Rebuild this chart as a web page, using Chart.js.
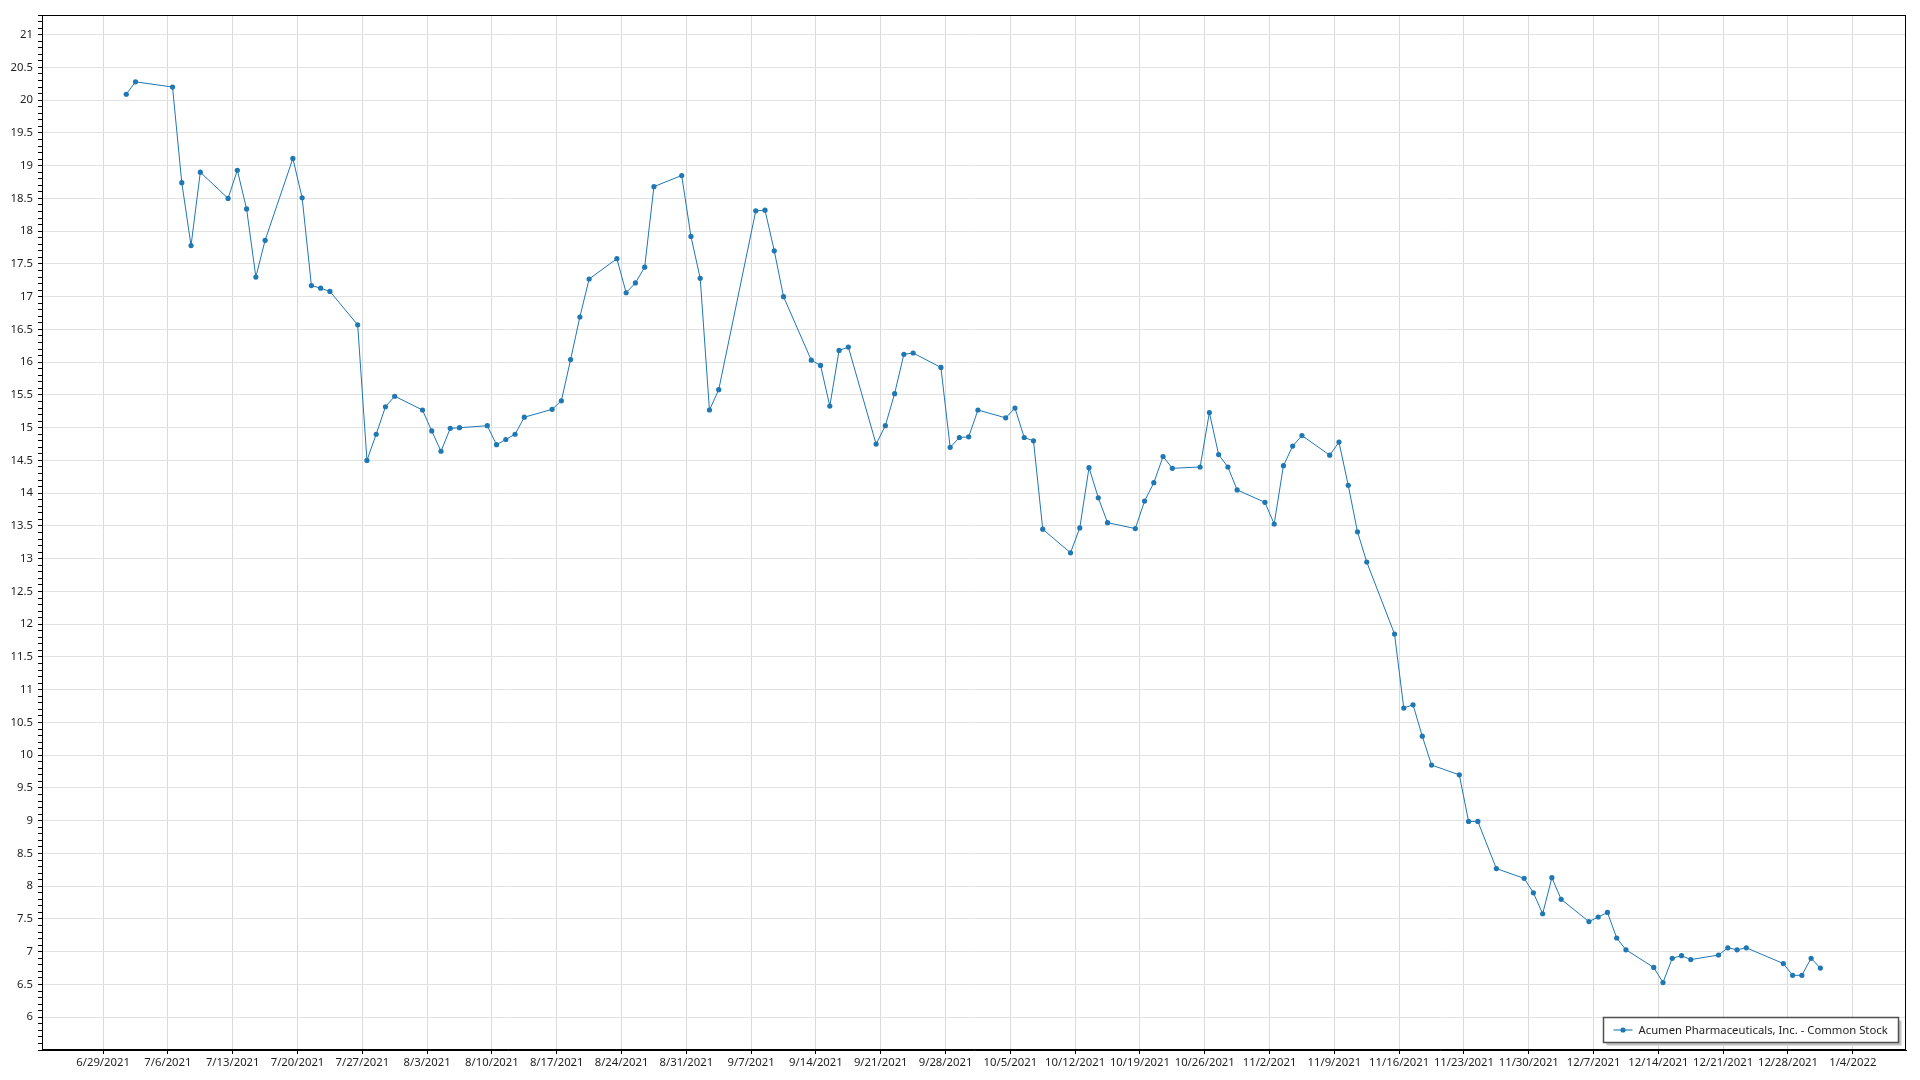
<!DOCTYPE html>
<html>
<head>
<meta charset="utf-8">
<title>Acumen Pharmaceuticals, Inc. - Common Stock</title>
<script src="https://cdn.jsdelivr.net/npm/chart.js@4.4.1/dist/chart.umd.min.js"></script>
<style>
  html, body { margin: 0; padding: 0; background: #fff; }
  canvas { display: block; }
</style>
</head>
<body>
<canvas id="price" width="1920" height="1080"></canvas>
<script>
let seriesName = 'Acumen Pharmaceuticals, Inc. - Common Stock';

let dates = [
    '2021-07-01', '2021-07-02', '2021-07-06', '2021-07-07', '2021-07-08', '2021-07-09',
    '2021-07-12', '2021-07-13', '2021-07-14', '2021-07-15', '2021-07-16',
    '2021-07-19', '2021-07-20', '2021-07-21', '2021-07-22', '2021-07-23',
    '2021-07-26', '2021-07-27', '2021-07-28', '2021-07-29', '2021-07-30',
    '2021-08-02', '2021-08-03', '2021-08-04', '2021-08-05', '2021-08-06',
    '2021-08-09', '2021-08-10', '2021-08-11', '2021-08-12', '2021-08-13',
    '2021-08-16', '2021-08-17', '2021-08-18', '2021-08-19', '2021-08-20',
    '2021-08-23', '2021-08-24', '2021-08-25', '2021-08-26', '2021-08-27',
    '2021-08-30', '2021-08-31', '2021-09-01', '2021-09-02', '2021-09-03',
    '2021-09-07', '2021-09-08', '2021-09-09', '2021-09-10',
    '2021-09-13', '2021-09-14', '2021-09-15', '2021-09-16', '2021-09-17',
    '2021-09-20', '2021-09-21', '2021-09-22', '2021-09-23', '2021-09-24',
    '2021-09-27', '2021-09-28', '2021-09-29', '2021-09-30', '2021-10-01',
    '2021-10-04', '2021-10-05', '2021-10-06', '2021-10-07', '2021-10-08',
    '2021-10-11', '2021-10-12', '2021-10-13', '2021-10-14', '2021-10-15',
    '2021-10-18', '2021-10-19', '2021-10-20', '2021-10-21', '2021-10-22',
    '2021-10-25', '2021-10-26', '2021-10-27', '2021-10-28', '2021-10-29',
    '2021-11-01', '2021-11-02', '2021-11-03', '2021-11-04', '2021-11-05',
    '2021-11-08', '2021-11-09', '2021-11-10', '2021-11-11', '2021-11-12',
    '2021-11-15', '2021-11-16', '2021-11-17', '2021-11-18', '2021-11-19',
    '2021-11-22', '2021-11-23', '2021-11-24', '2021-11-26',
    '2021-11-29', '2021-11-30', '2021-12-01', '2021-12-02', '2021-12-03',
    '2021-12-06', '2021-12-07', '2021-12-08', '2021-12-09', '2021-12-10',
    '2021-12-13', '2021-12-14', '2021-12-15', '2021-12-16', '2021-12-17',
    '2021-12-20', '2021-12-21', '2021-12-22', '2021-12-23',
    '2021-12-27', '2021-12-28', '2021-12-29', '2021-12-30', '2021-12-31'
];

let prices = [
    20.09, 20.28, 20.20, 18.74, 17.78, 18.90,
    18.50, 18.93, 18.34, 17.30, 17.86,
    19.11, 18.51, 17.17, 17.13, 17.08,
    16.57, 14.50, 14.90, 15.32, 15.48,
    15.27, 14.95, 14.64, 14.99, 15.00,
    15.03, 14.74, 14.82, 14.90, 15.16,
    15.28, 15.41, 16.04, 16.69, 17.27,
    17.58, 17.06, 17.21, 17.45, 18.68,
    18.85, 17.92, 17.28, 15.27, 15.58,
    18.31, 18.32, 17.70, 17.00,
    16.03, 15.95, 15.33, 16.18, 16.23,
    14.75, 15.03, 15.52, 16.12, 16.14,
    15.92, 14.70, 14.85, 14.86, 15.27,
    15.15, 15.30, 14.85, 14.80, 13.45,
    13.09, 13.47, 14.39, 13.93, 13.55,
    13.46, 13.88, 14.16, 14.56, 14.38,
    14.40, 15.23, 14.59, 14.40, 14.05,
    13.86, 13.53, 14.42, 14.72, 14.88,
    14.58, 14.78, 14.12, 13.41, 12.95,
    11.85, 10.72, 10.77, 10.29, 9.85,
    9.70, 8.99, 8.99, 8.27,
    8.12, 7.90, 7.58, 8.13, 7.80,
    7.46, 7.53, 7.60, 7.21, 7.03,
    6.76, 6.53, 6.90, 6.94, 6.88,
    6.95, 7.06, 7.03, 7.06,
    6.82, 6.64, 6.64, 6.90, 6.75
];

// weekly date ticks, counted in days from this date
let tickOrigin = '2021-06-29';
let xRange = [-6.6, 194.75];
let xStep = 7;
let yRange = [5.5, 21.3];
let yStep = 0.1;
let yLabelStep = 0.5;

let lineCol = 'rgb(31, 119, 180)';
let fontFamily = '"Segoe UI", "Noto Sans", sans-serif';
let fontSize = 11.3;

function utc(s) {
    let p = s.split('-').map(Number);
    return Date.UTC(p[0], p[1] - 1, p[2]);
}
let originMs = utc(tickOrigin);
let dayMs = 86400000;

function dayOf(s) {
    return Math.round((utc(s) - originMs) / dayMs);
}

function dateLabel(v) {
    let t = new Date(originMs + Math.round(v) * dayMs);
    return (t.getUTCMonth() + 1) + '/' + t.getUTCDate() + '/' + t.getUTCFullYear();
}

function isMajor(v) {
    let k = v / yLabelStep;
    return Math.abs(k - Math.round(k)) < 1e-6;
}

// points sit at midday of their trading day
let points = dates.map((d, i) => ({x: dayOf(d) + 0.5, y: prices[i]}));

let xTicks = [];
for (let v = Math.ceil(xRange[0] / xStep) * xStep; v <= xRange[1]; v += xStep) xTicks.push(v);
let yTicks = [];
let yCount = Math.round((yRange[1] - yRange[0]) / yStep);
for (let i = 0; i <= yCount; i++) yTicks.push(Math.round((yRange[0] + i * yStep) * 10) / 10);

const frame = {
    id: 'frame',
    afterDraw(chart) {
        let ctx = chart.ctx, a = chart.chartArea;
        ctx.save();
        ctx.strokeStyle = '#000';
        ctx.lineWidth = 1;
        ctx.strokeRect(Math.round(a.left) + 0.5, Math.round(a.top) + 0.5,
            Math.round(a.right - a.left) - 1, Math.round(a.bottom - a.top) - 1);
        ctx.restore();
    }
};

const boxLegend = {
    id: 'boxLegend',
    afterDraw(chart) {
        let ctx = chart.ctx, a = chart.chartArea;
        let ds = chart.data.datasets[0];
        ctx.save();
        ctx.font = fontSize + 'px ' + fontFamily;
        let tw = ctx.measureText(ds.label).width;
        let w = Math.round(tw + 46), h = 25;
        let x = Math.round(a.right - 8 - w) + 0.5, y = Math.round(a.bottom - 8 - h) + 0.5;
        ctx.fillStyle = '#c4c4c4';
        ctx.fillRect(x + 3, y + 3, w, h);
        ctx.fillStyle = '#fff';
        ctx.fillRect(x, y, w, h);
        ctx.strokeStyle = '#505050';
        ctx.lineWidth = 1.5;
        ctx.strokeRect(x, y, w, h);
        let cy = y + h / 2;
        ctx.strokeStyle = 'rgba(31, 119, 180, 0.55)';
        ctx.lineWidth = 2;
        ctx.beginPath();
        ctx.moveTo(x + 10, cy);
        ctx.lineTo(x + 29, cy);
        ctx.stroke();
        ctx.fillStyle = ds.borderColor;
        ctx.beginPath();
        ctx.arc(x + 19.5, cy, 2.6, 0, Math.PI * 2);
        ctx.fill();
        ctx.fillStyle = '#1e1e1e';
        ctx.textBaseline = 'middle';
        ctx.fillText(ds.label, x + 35, cy + 0.5);
        ctx.restore();
    }
};

var c = document.getElementById('price').getContext('2d');
var priceChart = new Chart(c, {
    type: 'line',
    data: {
        datasets: [{
            label: seriesName,
            data: points,
            borderColor: lineCol,
            backgroundColor: lineCol,
            borderWidth: 1,
            pointRadius: 2.6,
            pointBorderWidth: 0,
            pointBackgroundColor: lineCol,
            tension: 0,
            fill: false
        }]
    },
    options: {
        responsive: false,
        devicePixelRatio: 1,
        animation: false,
        events: [],
        layout: {
            padding: {left: 0, top: 15, right: 14, bottom: 0}
        },
        plugins: {
            legend: {display: false},
            tooltip: {enabled: false}
        },
        scales: {
            x: {
                type: 'linear',
                bounds: 'data',
                min: xRange[0],
                max: xRange[1],
                afterBuildTicks: (s) => { s.ticks = xTicks.map(v => ({value: v})); },
                afterFit: (s) => { s.height = 30; },
                ticks: {
                    autoSkip: false,
                    maxRotation: 0,
                    padding: 2,
                    color: '#1e1e1e',
                    font: {family: fontFamily, size: fontSize},
                    callback: (v) => dateLabel(v)
                },
                grid: {
                    color: '#dadada',
                    lineWidth: 1,
                    tickLength: 4,
                    tickColor: '#000'
                },
                border: {color: '#000', width: 1}
            },
            y: {
                type: 'linear',
                bounds: 'data',
                min: yRange[0],
                max: yRange[1],
                afterBuildTicks: (s) => { s.ticks = yTicks.map(v => ({value: v})); },
                afterFit: (s) => { s.width = 42; },
                ticks: {
                    autoSkip: false,
                    padding: 5,
                    color: '#1e1e1e',
                    font: {family: fontFamily, size: fontSize},
                    callback: (v) => (isMajor(v) && v > yRange[0]) ? String(Math.round(v / yLabelStep) * yLabelStep) : ''
                },
                grid: {
                    color: (ctx) => (ctx.tick && isMajor(ctx.tick.value)) ? '#e2e2e2' : 'rgba(0,0,0,0)',
                    lineWidth: 1,
                    tickLength: 4,
                    tickColor: '#000'
                },
                border: {color: '#000', width: 1}
            }
        }
    },
    plugins: [frame, boxLegend]
});
</script>
</body>
</html>
